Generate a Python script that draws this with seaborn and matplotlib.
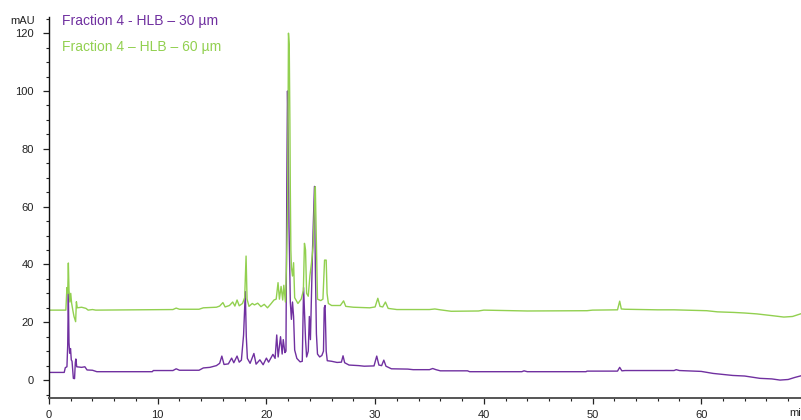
import matplotlib
matplotlib.use("Agg")
import matplotlib.pyplot as plt
import seaborn as sns
import pandas as pd
from matplotlib.ticker import MultipleLocator

# =========================
# Data
# =========================
LABEL_30 = "Fraction 4 - HLB \u2013 30 \u00b5m"
LABEL_60 = "Fraction 4 \u2013 HLB \u2013 60 \u00b5m"
COLOR_30 = "#7030A0"
COLOR_60 = "#92D050"

# retention time (min) / absorbance (mAU), 30 um trace
t30 = [0.0, 1.40, 1.50, 1.65, 1.72, 1.78, 1.84, 1.90, 1.98, 2.05, 2.12, 2.24, 2.35,
       2.42, 2.47, 2.55, 3.0, 3.3, 3.5, 4.0, 4.4, 9.5, 9.6, 11.4, 11.7, 12.0, 13.8,
       14.2, 14.8, 15.4, 15.7, 15.9, 16.1, 16.5, 16.8, 17.0, 17.3, 17.5, 17.7, 17.9,
       18.06, 18.15, 18.25, 18.5, 18.85, 19.05, 19.4, 19.7, 20.0, 20.2, 20.6, 20.8,
       20.95, 21.08, 21.3, 21.45, 21.55, 21.7, 21.8, 21.88, 21.94, 22.0, 22.08, 22.2,
       22.3, 22.4, 22.5, 22.6, 22.8, 23.1, 23.3, 23.42, 23.5, 23.6, 23.7, 23.85, 23.95,
       24.05, 24.15, 24.25, 24.33, 24.42, 24.5, 24.6, 24.7, 24.9, 25.1, 25.25, 25.32,
       25.4, 25.5, 25.6, 26.0, 26.5, 26.9, 27.05, 27.2, 27.6, 28.5, 29.0, 29.9, 30.15,
       30.35, 30.6, 30.8, 31.0, 31.5, 33.0, 33.5, 35.0, 35.3, 35.6, 36.0, 38.5, 38.7,
       43.5, 43.7, 44.0, 49.4, 49.5, 52.3, 52.5, 52.7, 53.0, 57.5, 57.7, 58.0, 60.0,
       61.1, 62.9, 64.0, 65.4, 66.5, 67.25, 68.0, 68.6, 69.3]
v30 = [2.65, 2.65, 4.3, 4.6, 12, 30, 13, 9.3, 10.9, 7.0, 6.5, 0.6, 0.5,
       6.0, 7.3, 4.6, 4.4, 4.6, 3.5, 3.4, 2.9, 2.9, 3.3, 3.3, 3.9, 3.4, 3.4,
       4.2, 4.4, 5.0, 5.8, 8.3, 5.4, 5.6, 7.6, 6.0, 8.3, 6.2, 6.9, 15.6,
       30.6, 15, 7.5, 5.8, 9.2, 5.5, 7.0, 5.3, 7.6, 6.2, 8.9, 7.5,
       15.6, 8.0, 15.0, 9.0, 14, 9.5, 10, 69, 100, 86, 53, 27,
       21, 27, 22, 10.4, 7.5, 6.3, 6.5, 32, 24, 14, 8, 10, 22,
       14, 30, 46, 56, 67, 40, 16, 9, 8, 8.5, 10, 25,
       25.8, 10, 6.7, 6.5, 6.1, 6.2, 8.4, 6.0, 5.2, 5.0, 4.8, 4.9, 8.3,
       5.2, 5.0, 6.9, 4.8, 3.9, 3.8, 3.6, 3.6, 4.0, 3.6, 3.2, 3.2, 2.9,
       2.9, 3.2, 2.9, 2.9, 3.1, 3.1, 4.4, 3.2, 3.3, 3.3, 3.6, 3.3, 3.0,
       2.3, 1.6, 1.4, 0.6, 0.4, 0.0, 0.2, 0.9, 1.6]

# 60 um trace
t60 = [0.0, 1.55, 1.65, 1.72, 1.78, 1.84, 1.92, 2.0, 2.08, 2.2, 2.3, 2.45, 2.52,
       2.6, 3.0, 3.4, 3.6, 4.0, 4.3, 11.4, 11.7, 12.0, 13.8, 14.2, 15.4, 15.7, 16.0,
       16.2, 16.6, 16.9, 17.1, 17.3, 17.5, 17.8, 18.0, 18.13, 18.22, 18.4, 18.7, 18.9,
       19.2, 19.5, 19.8, 20.1, 20.4, 20.7, 20.9, 21.07, 21.2, 21.35, 21.5, 21.6, 21.75,
       21.85, 21.95, 22.03, 22.1, 22.16, 22.2, 22.25, 22.3, 22.4, 22.5, 22.6, 22.9,
       23.2, 23.4, 23.5, 23.6, 23.7, 23.85, 24.0, 24.15, 24.3, 24.42, 24.5, 24.58,
       24.7, 25.0, 25.2, 25.35, 25.5, 25.58, 25.7, 26.0, 26.8, 27.1, 27.3, 28.0, 29.5,
       30.0, 30.25, 30.45, 30.7, 30.95, 31.2, 32.0, 35.0, 35.5, 36.0, 37.0, 39.5, 40.0,
       44.0, 49.5, 50.0, 52.3, 52.5, 52.65, 53.0, 56.0, 57.5, 60.5, 61.5, 63.0, 64.0,
       65.1, 66.5, 67.6, 68.4, 69.3]
v60 = [24.2, 24.2, 32, 30, 40.5, 31, 27, 30, 26.6, 24, 22, 20.2, 27.1,
       25, 25.2, 24.8, 24.2, 24.4, 24.2, 24.4, 24.9, 24.5, 24.5, 25.0, 25.2, 25.6, 26.8,
       25.3, 25.8, 27.0, 25.6, 27.7, 25.7, 26.5, 28.5, 42.9, 28, 25.5, 26.5, 26.0,
       26.6, 25.4, 26.2, 25.0, 26.3, 27.7, 28.0, 33.7, 28, 32.4, 27.7, 32.8, 27,
       40, 60, 120, 116, 90, 66, 45, 39, 36, 40.6, 28.5, 26.5,
       28, 31, 47.3, 45, 30, 29, 36, 40.6, 46.4, 60, 66.9, 51,
       28, 27.5, 28, 41.5, 41.5, 30, 26.5, 25.8, 25.8, 27.4, 25.5, 25.2, 25.0,
       25.3, 28.3, 25.5, 25.3, 27.0, 24.8, 24.4, 24.4, 24.6, 24.3, 23.8, 23.9, 24.2,
       23.9, 24.0, 24.2, 24.3, 27.3, 24.6, 24.5, 24.3, 24.3, 24.0, 23.6, 23.4, 23.2,
       22.9, 22.3, 21.8, 22.0, 23.1]

x_ticks = [0, 10, 20, 30, 40, 50, 60]
y_ticks = [0, 20, 40, 60, 80, 100, 120]

# =========================
# Plot
# =========================
sns.set_theme(style="ticks")
plt.rcParams["font.family"] = ["Liberation Sans", "DejaVu Sans"]

df = pd.concat([
    pd.DataFrame({"time": t30, "mAU": v30, "trace": LABEL_30}),
    pd.DataFrame({"time": t60, "mAU": v60, "trace": LABEL_60}),
])

fig = plt.figure(figsize=(8.01, 4.2), dpi=100)
ax = fig.add_axes([49 / 801, 1 - 398 / 420, 752 / 801, 381 / 420])

sns.lineplot(data=df, x="time", y="mAU", hue="trace", sort=False, estimator=None,
             palette={LABEL_30: COLOR_30, LABEL_60: COLOR_60},
             linewidth=1.0, legend=False, ax=ax)

ax.set_xlim(0, 69.18)
ax.set_ylim(-6.2, 125.6)
ax.set_xlabel("")
ax.set_ylabel("")

ax.set_xticks(x_ticks)
ax.set_yticks(y_ticks)
ax.xaxis.set_minor_locator(MultipleLocator(2))
ax.yaxis.set_minor_locator(MultipleLocator(5))
ax.tick_params(axis="both", which="major", labelsize=8, colors="#222222",
               length=4, width=0.9)
ax.tick_params(axis="both", which="minor", length=2, width=0.8, colors="#222222")
ax.tick_params(axis="y", which="major", pad=7)
ax.tick_params(axis="x", which="major", pad=5)

for s in ["top", "right"]:
    ax.spines[s].set_visible(False)
ax.spines["left"].set_color("#111111")
ax.spines["left"].set_linewidth(1.0)
ax.spines["bottom"].set_color("#555555")
ax.spines["bottom"].set_linewidth(1.4)

# unit labels, placed like the instrument software does
fig.text(35 / 801, 1 - 21 / 420, "mAU", fontsize=8, ha="right", va="center",
         color="#222222")
fig.text(789 / 801, 1 - 413 / 420, "min", fontsize=8, ha="left", va="center",
         color="#222222")

# trace names
fig.text(62 / 801, 1 - 20.5 / 420, LABEL_30, fontsize=10, color=COLOR_30,
         ha="left", va="center")
fig.text(62 / 801, 1 - 46.5 / 420, LABEL_60, fontsize=10, color=COLOR_60,
         ha="left", va="center")

fig.savefig("out.png", dpi=100)
